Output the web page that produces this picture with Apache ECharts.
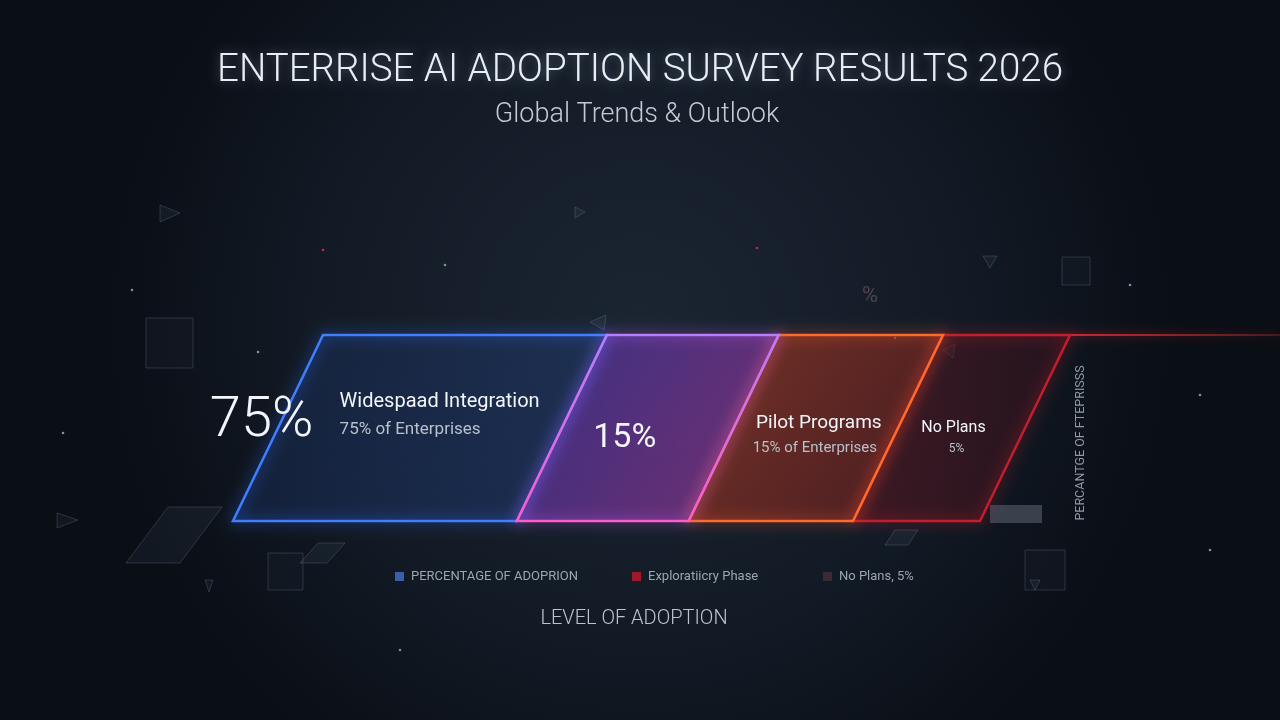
<!DOCTYPE html>
<html>
<head>
<meta charset="utf-8">
<style>
  html, body { margin: 0; padding: 0; background: #0d131c; }
  #chart { width: 1280px; height: 720px; }
</style>
<script src="https://cdn.jsdelivr.net/npm/echarts@6/dist/echarts.min.js"></script>
</head>
<body>
<div id="chart"></div>
<script>
// segment names and the share printed on each
var segmentNames = ['Widespaad Integration', 'Exploratory', 'Pilot Programs', 'No Plans'];
var shareLabels = [75, 15, 15, 5];
// widths of the segments as drawn in the picture (axis runs 0..100)
var segmentSpans = [38, 23, 22, 17];
var legendNames = ['PERCENTAGE OF ADOPRION', 'Exploratiicry Phase', 'No Plans, 5%'];

var chartDom = document.getElementById('chart');
var myChart = echarts.init(chartDom);

var SKEW = 90; // px the top edge is pushed right
var edgeColors = [
  '#3f7fff',
  new echarts.graphic.LinearGradient(0, 0, 0, 1, [{ offset: 0, color: '#b77cff' }, { offset: 1, color: '#ff5cc8' }]),
  '#ff6a2c',
  '#c21e2c'
];
var glowColors = ['#2f6bff', '#c45cff', '#ff5a1e', '#c8182a'];
var fills = [
  new echarts.graphic.LinearGradient(0, 0, 1, 1, [{ offset: 0, color: 'rgba(30,62,130,0.24)' }, { offset: 1, color: 'rgba(40,78,165,0.32)' }]),
  new echarts.graphic.LinearGradient(0, 0, 1, 1, [{ offset: 0, color: 'rgba(80,56,190,0.58)' }, { offset: 1, color: 'rgba(175,58,155,0.62)' }]),
  new echarts.graphic.LinearGradient(0, 0, 1, 1, [{ offset: 0, color: 'rgba(175,60,34,0.62)' }, { offset: 1, color: 'rgba(115,30,30,0.55)' }]),
  new echarts.graphic.LinearGradient(0, 0, 1, 0, [{ offset: 0, color: 'rgba(92,22,32,0.58)' }, { offset: 1, color: 'rgba(66,18,28,0.42)' }])
];
var edgeZ = [3, 5, 4, 2];

// build [start, end, index] rows
var rows = [];
var acc = 0;
segmentSpans.forEach(function (s, i) {
  rows.push([acc, acc + s, i]);
  acc += s;
});

function renderSegment(params, api) {
  var x0 = api.value(0), x1 = api.value(1), i = api.value(2);
  var bl = api.coord([x0, 0]);
  var br = api.coord([x1, 0]);
  var tl = api.coord([x0, 1]);
  var tr = api.coord([x1, 1]);
  tl[0] += SKEW; tr[0] += SKEW;
  var pts = [tl, tr, br, bl];
  var cx = (tl[0] + tr[0] + br[0] + bl[0]) / 4;
  var cy = (tl[1] + bl[1]) / 2;
  var children = [
    { type: 'polygon', z2: 0, shape: { points: pts }, style: { fill: fills[i] } },
    {
      type: 'polygon', z2: edgeZ[i], shape: { points: pts },
      style: { fill: null, stroke: edgeColors[i], lineWidth: 2.5, shadowBlur: 14, shadowColor: glowColors[i] }
    }
  ];
  var white = '#f2f5fa', grey = '#b8c0cc';
  if (i === 0) {
    var leftX = bl[0] + (tl[0] - bl[0]) * 0.54;
    children.push({ type: 'text', z2: 10, style: { x: leftX - 20, y: cy - 6, text: shareLabels[i] + '%', fill: white, font: '300 56px Roboto', align: 'center', verticalAlign: 'middle', shadowBlur: 12, shadowColor: 'rgba(255,255,255,0.5)' } });
    children.push({ type: 'text', z2: 10, style: { x: leftX + 58, y: cy - 26, text: segmentNames[i], fill: white, font: '20px Roboto', align: 'left', verticalAlign: 'middle' } });
    children.push({ type: 'text', z2: 10, style: { x: leftX + 58, y: cy + 2, text: shareLabels[i] + '% of Enterprises', fill: grey, font: '17px Roboto', align: 'left', verticalAlign: 'middle' } });
  } else if (i === 1) {
    children.push({ type: 'text', z2: 10, style: { x: cx - 23, y: cy + 10, text: shareLabels[i] + '%', fill: white, font: '34px Roboto', align: 'center', verticalAlign: 'middle' } });
  } else if (i === 2) {
    children.push({ type: 'text', z2: 10, style: { x: cx + 3, y: cy - 5, text: segmentNames[i], fill: white, font: '19px Roboto', align: 'center', verticalAlign: 'middle' } });
    children.push({ type: 'text', z2: 10, style: { x: cx - 1, y: cy + 20, text: shareLabels[i] + '% of Enterprises', fill: grey, font: '15px Roboto', align: 'center', verticalAlign: 'middle' } });
  } else {
    children.push({ type: 'text', z2: 10, style: { x: cx - 8, y: cy, text: segmentNames[i], fill: white, font: '16px Roboto', align: 'center', verticalAlign: 'middle' } });
    children.push({ type: 'text', z2: 10, style: { x: cx - 5, y: cy + 21, text: shareLabels[i] + '%', fill: grey, font: '12px Roboto', align: 'center', verticalAlign: 'middle' } });
    // glowing top line running off to the right
    children.push({
      type: 'line', z2: 1, shape: { x1: tr[0], y1: tr[1], x2: api.getWidth(), y2: tr[1] },
      style: {
        stroke: new echarts.graphic.LinearGradient(0, 0, 1, 0, [{ offset: 0, color: 'rgba(220,40,50,0.9)' }, { offset: 1, color: 'rgba(220,60,60,0.25)' }]),
        lineWidth: 2, shadowBlur: 10, shadowColor: '#d0182a'
      }
    });
  }
  return { type: 'group', children: children };
}

// decorative shapes in the background
function deco() {
  var c = 'rgba(150,170,195,0.22)';
  var items = [];
  var rects = [[146, 318, 47, 50], [268, 553, 35, 37], [1025, 550, 40, 40], [1062, 257, 28, 28]];
  rects.forEach(function (r) {
    items.push({ type: 'rect', shape: { x: r[0], y: r[1], width: r[2], height: r[3] }, style: { fill: 'rgba(120,140,170,0.04)', stroke: c, lineWidth: 1 } });
  });
  var polys = [
    [[160, 205], [160, 222], [180, 213]], [[575, 207], [575, 218], [585, 212]], [[983, 256], [997, 256], [990, 268]],
    [[590, 322], [606, 315], [604, 330]], [[57, 513], [57, 528], [78, 520]], [[205, 580], [213, 580], [209, 592]],
    [[1030, 580], [1040, 580], [1035, 590]], [[943, 350], [955, 344], [953, 358]],
    [[168, 507], [222, 507], [180, 563], [126, 563]], [[318, 543], [345, 543], [327, 563], [300, 563]],
    [[895, 530], [918, 530], [908, 545], [885, 545]]
  ];
  polys.forEach(function (p) {
    items.push({ type: 'polygon', shape: { points: p }, style: { fill: 'rgba(120,150,180,0.08)', stroke: c, lineWidth: 1 } });
  });
  items.push({ type: 'rect', shape: { x: 990, y: 505, width: 52, height: 18 }, style: { fill: 'rgba(110,120,135,0.45)' } });
  items.push({ type: 'text', style: { x: 870, y: 296, text: '%', fill: 'rgba(160,110,120,0.45)', font: '22px Roboto', align: 'center', verticalAlign: 'middle' } });
  var dots = [[323, 250, '#c0303a'], [757, 248, '#c0303a'], [895, 338, '#e06040'], [132, 290, '#8090a0'], [258, 352, '#8090a0'],
    [63, 433, '#8090a0'], [445, 265, '#8090a0'], [1210, 550, '#8090a0'], [1130, 285, '#8090a0'], [1200, 395, '#8090a0'], [400, 650, '#8090a0']];
  dots.forEach(function (d) {
    items.push({ type: 'circle', shape: { cx: d[0], cy: d[1], r: 1.3 }, style: { fill: d[2] } });
  });
  return items;
}

var legendColors = ['#3c5ea8', '#9e1a2a', '#3a2a36'];
var legendX = [395, 632, 823];
var legendItems = [];
legendNames.forEach(function (n, i) {
  legendItems.push({ type: 'rect', shape: { x: legendX[i], y: 572, width: 9, height: 9 }, style: { fill: legendColors[i] } });
  legendItems.push({ type: 'text', style: { x: legendX[i] + 16, y: 577, text: n, fill: '#9aa6b4', font: '13px Roboto', verticalAlign: 'middle' } });
});

var option = {
  backgroundColor: new echarts.graphic.RadialGradient(0.5, 0.45, 0.75, [
    { offset: 0, color: '#1b2532' },
    { offset: 0.6, color: '#121a25' },
    { offset: 1, color: '#0a0e15' }
  ]),
  title: [
    {
      text: 'ENTERRISE AI ADOPTION SURVEY RESULTS 2026',
      left: 'center', top: 47,
      textStyle: { color: '#e9eef5', fontFamily: 'Roboto', fontWeight: 300, fontSize: 38.5, textShadowBlur: 10, textShadowColor: 'rgba(200,220,255,0.35)' }
    },
    {
      text: 'Global Trends & Outlook',
      left: 632, textAlign: 'center', top: 97,
      textStyle: { color: '#c3cad3', fontFamily: 'Roboto', fontWeight: 300, fontSize: 27 }
    },
    {
      text: 'LEVEL OF ADOPTION',
      left: 629, textAlign: 'center', top: 604,
      textStyle: { color: '#bcc5cf', fontFamily: 'Roboto', fontWeight: 300, fontSize: 20 }
    }
  ],
  grid: { left: 233, right: 300, top: 335, bottom: 199 },
  xAxis: { type: 'value', min: 0, max: 100, show: false },
  yAxis: { type: 'value', min: 0, max: 1, show: false },
  graphic: deco().concat(legendItems).concat([
    {
      type: 'text', x: 1081, y: 443, rotation: Math.PI / 2,
      style: { text: 'PERCANTGE OF FTEPRISSS', fill: '#8e99a6', font: '12.5px Roboto', align: 'center', verticalAlign: 'middle' }
    }
  ]),
  series: [
    {
      type: 'custom',
      name: 'Adoption',
      renderItem: renderSegment,
      encode: { x: [0, 1] },
      data: rows,
      clip: false,
      silent: true
    }
  ]
};

option && myChart.setOption(option);
</script>
</body>
</html>
